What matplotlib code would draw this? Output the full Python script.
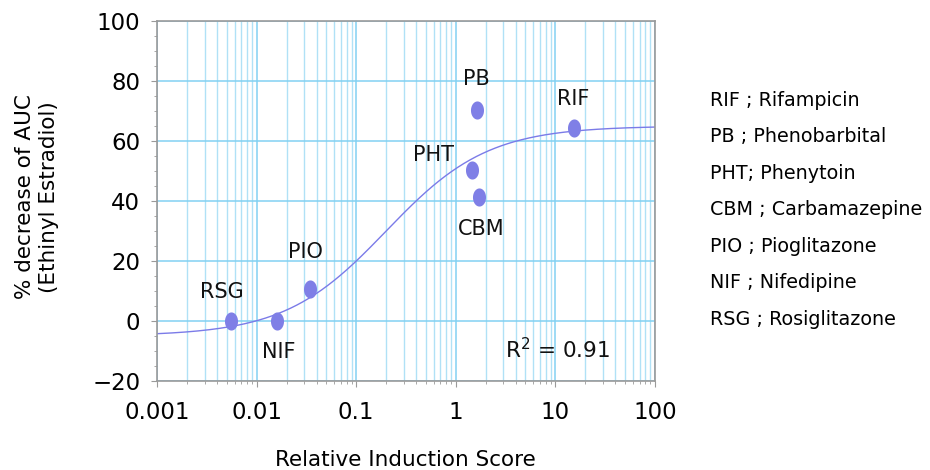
import numpy as np
import matplotlib
matplotlib.use("Agg")
import matplotlib.pyplot as plt
from matplotlib.ticker import LogLocator, MultipleLocator, NullFormatter
from matplotlib.path import Path

plt.rcParams['font.family'] = ['DejaVu Sans']
plt.rcParams['mathtext.fontset'] = 'dejavusans'

# data
drugs = ["RSG", "NIF", "PIO", "PHT", "PB", "CBM", "RIF"]
ris = [0.0055, 0.016, 0.034, 1.46, 1.62, 1.71, 15.4]
auc_decrease = [0.0, 0.0, 10.6, 50.2, 70.2, 41.2, 64.2]
legend_lines = ["RIF ; Rifampicin", "PB ; Phenobarbital", "PHT; Phenytoin",
                "CBM ; Carbamazepine", "PIO ; Pioglitazone", "NIF ; Nifedipine",
                "RSG ; Rosiglitazone"]
# fitted Emax model parameters
E0, Emax, EC50, hill = -5.0, 70.0, 0.2, 0.85
r2_text = "R$^2$ = 0.91"

# label offsets in pixels (dx right, dy up)
label_offsets = {"RSG": (-9, 29), "NIF": (2, -31), "PIO": (-4, 37),
                 "PHT": (-39, 15), "PB": (0, 31), "CBM": (2, -32), "RIF": (-1, 29)}

fig = plt.figure(figsize=(9.3, 4.7), dpi=100)
ax = fig.add_axes([157/930, 1-381/470, (655-157)/930, (381-21)/470])

ax.set_xscale('log')
ax.set_xlim(0.001, 100)
ax.set_ylim(-20, 100)

ax.xaxis.set_major_locator(LogLocator(base=10, numticks=10))
ax.xaxis.set_minor_locator(LogLocator(base=10, subs=np.arange(2, 10), numticks=20))
ax.xaxis.set_minor_formatter(NullFormatter())
ax.yaxis.set_major_locator(MultipleLocator(20))
ax.yaxis.set_minor_locator(MultipleLocator(5))
ax.grid(True, which='major', axis='both', color='#82d1f2', lw=1.1, zorder=0)
ax.grid(True, which='minor', axis='x', color='#b0e1f6', lw=1.0, zorder=0)

# fitted curve
xc = np.logspace(-3, 2, 400)
yc = E0 + Emax * xc**hill / (EC50**hill + xc**hill)
ax.plot(xc, yc, color='#7b7be8', lw=1.0, zorder=2)

# elliptical markers
theta = np.linspace(0, 2*np.pi, 60)
ell = Path(np.column_stack([0.72*np.cos(theta), np.sin(theta)]))
ax.scatter(ris, auc_decrease, s=170, marker=ell, color='#7f7fe6', zorder=3, linewidths=0)

for d, x, y in zip(drugs, ris, auc_decrease):
    dx, dy = label_offsets[d]
    ax.annotate(d, (x, y), xytext=(dx, dy), textcoords='offset pixels',
                ha='center', va='center', fontsize=15, color='#111111')

ax.text(557, 470-350, r2_text, transform=None, ha='center', va='center',
        fontsize=15.5, color='#111111')

for s in ax.spines.values():
    s.set_color('#9a9a9a')
    s.set_linewidth(1.2)
ax.tick_params(axis='both', which='major', direction='out', length=4, color='#9a9a9a',
               labelsize=16.5)
ax.tick_params(axis='y', which='major', pad=8)
ax.tick_params(axis='x', which='major', pad=10.5)
ax.tick_params(axis='both', which='minor', direction='out', length=2.5, color='#9a9a9a')
ax.set_yticks([-20, 0, 20, 40, 60, 80, 100])
ax.set_yticklabels(['\u221220', '0', '20', '40', '60', '80', '100'])
ax.set_xticks([0.001, 0.01, 0.1, 1, 10, 100])
ax.set_xticklabels(['0.001', '0.01', '0.1', '1', '10', '100'])

fig.text(405/930, 1-460/470, "Relative Induction Score", ha='center', va='center',
         fontsize=15.5)
fig.text(37/930, 1-197/470, "% decrease of AUC\n(Ethinyl Estradiol)", rotation=90,
         ha='center', va='center', fontsize=15.5, linespacing=1.25)

for i, t in enumerate(legend_lines):
    fig.text(710/930, 1-(100 + i*36.6)/470, t, ha='left', va='center', fontsize=13.8)

fig.savefig("out.png", dpi=100)
